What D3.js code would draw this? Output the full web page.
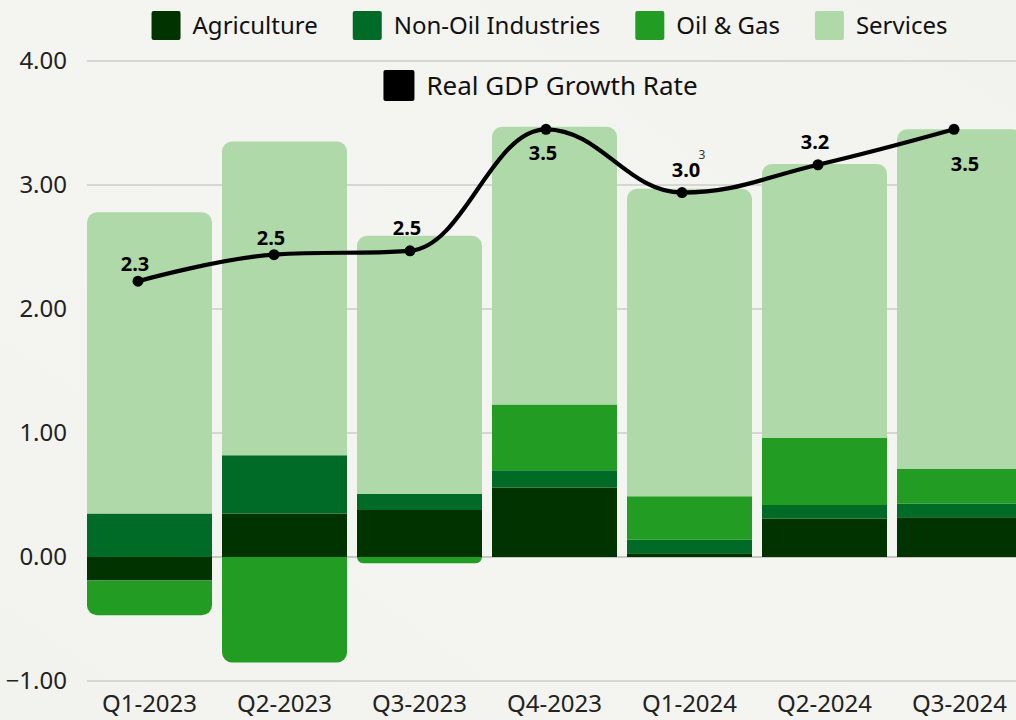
<!DOCTYPE html>
<html><head><meta charset="utf-8">
<script src="https://cdn.jsdelivr.net/npm/d3@7"></script>
<style>
html,body{margin:0;padding:0;background:#f3f3ef;}
svg{display:block;font-family:"Noto Sans",sans-serif;}
</style></head>
<body><svg id="chart" width="1016" height="720"></svg>
<script>
const categories = ["Q1-2023","Q2-2023","Q3-2023","Q4-2023","Q1-2024","Q2-2024","Q3-2024"];
const seriesNames = ["Agriculture","Non-Oil Industries","Oil & Gas","Services"];
const agriculture = [-0.19, 0.35, 0.38, 0.56, 0.03, 0.31, 0.32];
const nonOil      = [0.35, 0.47, 0.13, 0.14, 0.11, 0.11, 0.11];
const oilGas      = [-0.28, -0.85, -0.05, 0.53, 0.35, 0.54, 0.28];
const services    = [2.43, 2.53, 2.08, 2.24, 2.48, 2.21, 2.74];
const gdpGrowth   = [2.3, 2.51, 2.54, 3.5, 3.0, 3.22, 3.5];
const yTicks = [-1, 0, 1, 2, 3, 4];
const lineName = "Real GDP Growth Rate";
const colors = ["#003300", "#006b27", "#229c22", "#afd9a8"];

const svg = d3.select("#chart");
const W = 1016, H = 720;

// background with subtle diagonal sheen
const defs = svg.append("defs");
const lg = defs.append("linearGradient").attr("id","bg").attr("x1","0").attr("y1","1").attr("x2","1").attr("y2","0");
lg.append("stop").attr("offset","0").attr("stop-color","#f2f2ee");
lg.append("stop").attr("offset","0.5").attr("stop-color","#f4f4f0");
lg.append("stop").attr("offset","1").attr("stop-color","#f2f2ee");
svg.append("rect").attr("width",W).attr("height",H).attr("fill","url(#bg)");

const x = d3.scaleBand().domain(categories).range([82, 1027]).paddingInner(10/135).paddingOuter(5/135);
const y = d3.scaleLinear().domain([-1, 4]).range([681, 61]);
const xLine = d3.scalePoint().domain(categories).range([138, 954]);
const yLine = d3.scaleLinear().domain([-1, 4]).range([699, 66]);

// gridlines
svg.append("g").selectAll("line").data(yTicks).join("line")
  .attr("x1", 87).attr("x2", W)
  .attr("y1", d => y(d)).attr("y2", d => y(d))
  .attr("stroke", d => d === 0 ? "#9a9a96" : "#d6d6d2")
  .attr("stroke-width", d => d === 0 ? 1.2 : 2);

// y axis labels
svg.append("g").selectAll("text").data(yTicks).join("text")
  .attr("x", 67).attr("y", d => y(d)).attr("dy", "0.35em")
  .attr("text-anchor", "end").attr("font-size", 24).attr("fill", "#222")
  .text(d => d3.format(".2f")(d));

// x axis labels
svg.append("g").selectAll("text").data(categories).join("text")
  .attr("x", d => x(d) + x.bandwidth()/2).attr("y", 712)
  .attr("text-anchor", "middle").attr("font-size", 24).attr("fill", "#222")
  .text(d => d);

// stacked data
const table = categories.map((c, i) => ({
  cat: c,
  "Agriculture": agriculture[i],
  "Non-Oil Industries": nonOil[i],
  "Oil & Gas": oilGas[i],
  "Services": services[i]
}));
const stacked = d3.stack().keys(seriesNames).offset(d3.stackOffsetDiverging)(table);

// find end segments for rounding
const ends = categories.map((c, i) => {
  let topK = -1, botK = -1, topV = 0, botV = 0;
  stacked.forEach((s, k) => {
    const [a, b] = s[i];
    const v = s[i].data[s.key];
    if (v > 0 && b >= topV) { topV = b; topK = k; }
    if (v < 0 && a <= botV) { botV = a; botK = k; }
  });
  return {topK, botK};
});

function barPath(x0, x1, yTop, yBot, rTop, rBot) {
  const h = yBot - yTop;
  rTop = Math.min(rTop, h, (x1 - x0)/2);
  rBot = Math.min(rBot, h, (x1 - x0)/2);
  const p = d3.path();
  p.moveTo(x0, yTop + rTop);
  if (rTop > 0) p.arcTo(x0, yTop, x0 + rTop, yTop, rTop); else p.lineTo(x0, yTop);
  if (rTop > 0) { p.lineTo(x1 - rTop, yTop); p.arcTo(x1, yTop, x1, yTop + rTop, rTop); } else p.lineTo(x1, yTop);
  if (rBot > 0) { p.lineTo(x1, yBot - rBot); p.arcTo(x1, yBot, x1 - rBot, yBot, rBot); } else p.lineTo(x1, yBot);
  if (rBot > 0) { p.lineTo(x0 + rBot, yBot); p.arcTo(x0, yBot, x0, yBot - rBot, rBot); } else p.lineTo(x0, yBot);
  p.closePath();
  return p.toString();
}

const R = 10;
svg.append("g").selectAll("g").data(stacked).join("g")
  .attr("fill", (s, k) => colors[k])
  .selectAll("path").data((s, k) => s.map((d, i) => ({d, i, k}))).join("path")
  .attr("d", ({d, i, k}) => {
    const x0 = x(categories[i]), x1 = x0 + x.bandwidth();
    const yt = y(Math.max(d[0], d[1])), yb = y(Math.min(d[0], d[1]));
    const rt = ends[i].topK === k ? R : 0;
    const rb = ends[i].botK === k ? R : 0;
    return barPath(x0, x1, yt, yb, rt, rb);
  });

// spline (Highcharts-style)
const pts = categories.map((c, i) => [xLine(c), yLine(gdpGrowth[i])]);
const ctrl = pts.map((p, i) => {
  if (i === 0 || i === pts.length - 1) return null;
  const [px, py] = p, [ax, ay] = pts[i-1], [bx, by] = pts[i+1];
  const sm = 1.5, den = 2.5;
  let lx = (sm*px + ax)/den, ly = (sm*py + ay)/den;
  let rx = (sm*px + bx)/den, ry = (sm*py + by)/den;
  if (rx !== lx) {
    const corr = ((ry - ly) * (rx - px)) / (rx - lx) + py - ry;
    ly += corr; ry += corr;
  }
  if (ly > ay && ly > py) { ly = Math.max(ay, py); ry = 2*py - ly; }
  else if (ly < ay && ly < py) { ly = Math.min(ay, py); ry = 2*py - ly; }
  if (ry > by && ry > py) { ry = Math.max(by, py); ly = 2*py - ry; }
  else if (ry < by && ry < py) { ry = Math.min(by, py); ly = 2*py - ry; }
  return {lx, ly, rx, ry};
});
const lp = d3.path();
lp.moveTo(pts[0][0], pts[0][1]);
for (let i = 1; i < pts.length; i++) {
  const a = ctrl[i-1], b = ctrl[i];
  lp.bezierCurveTo(a ? a.rx : pts[i-1][0], a ? a.ry : pts[i-1][1],
                   b ? b.lx : pts[i][0], b ? b.ly : pts[i][1],
                   pts[i][0], pts[i][1]);
}
svg.append("path").attr("d", lp.toString()).attr("fill", "none")
  .attr("stroke", "#000").attr("stroke-width", 4.2).attr("stroke-linejoin", "round");

svg.append("g").selectAll("circle").data(pts).join("circle")
  .attr("cx", d => d[0]).attr("cy", d => d[1]).attr("r", 5.5).attr("fill", "#000");

// data labels
const labels = svg.append("g").attr("font-size", 20).attr("font-weight", "bold")
  .attr("text-anchor", "middle").attr("fill", "#000");
gdpGrowth.forEach((v, i) => {
  const below = v >= 3.45;
  const lx = pts[i][0] + (i === categories.length - 1 ? 11 : (i === 4 ? 4 : -3));
  const ly = pts[i][1] + (below ? (i === categories.length - 1 ? 35 : 24) : (i >= 2 ? -23 : -17));
  labels.append("text").attr("x", lx).attr("y", ly).attr("dy", "0.35em").text(d3.format(".1f")(v));
  if (i === 4) {
    svg.append("text").attr("x", lx + 16).attr("y", ly - 15).attr("dy", "0.35em")
      .attr("font-size", 12).attr("fill", "#333").attr("text-anchor", "middle").text("3");
  }
});

// legend
function legendRow(items, cy, center, fs, sym) {
  const g = svg.append("g");
  let cx = 0;
  const off = sym + 12;
  items.forEach(it => {
    g.append("rect").attr("x", cx).attr("y", cy - sym/2).attr("width", sym).attr("height", sym)
      .attr("rx", 2).attr("fill", it.color);
    const t = g.append("text").attr("x", cx + off).attr("y", cy).attr("dy", "0.35em")
      .attr("font-size", fs).attr("fill", "#111").text(it.name);
    const w = t.node().getComputedTextLength();
    cx += off + w + 35;
  });
  const total = cx - 35;
  g.attr("transform", `translate(${center - total/2},0)`);
}
legendRow(seriesNames.map((n, k) => ({name: n, color: colors[k]})), 25.5, 549.5, 24, 29);
legendRow([{name: lineName, color: "#000"}], 85.5, 540.5, 26, 31);
</script>
</body></html>
